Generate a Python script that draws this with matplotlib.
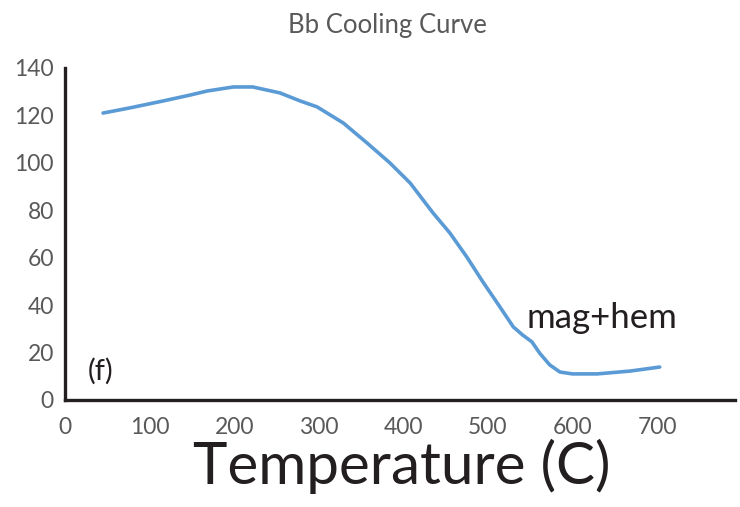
import matplotlib
matplotlib.use("Agg")
import matplotlib.pyplot as plt

# Bb sample: magnetic moment vs temperature during cooling
temperature = [45, 77, 116, 148, 168, 199, 222, 254, 278, 298, 329, 357, 384,
               408, 435, 455, 475, 494, 511, 530, 541, 552, 561, 573, 585, 600,
               629, 668, 703]
moment = [121.0, 123.2, 126.1, 128.6, 130.3, 132.0, 132.0, 129.5, 126.1, 123.6,
          116.8, 108.4, 100.0, 91.5, 78.9, 70.4, 60.3, 49.8, 40.9, 30.8, 27.4,
          24.5, 19.8, 14.8, 11.8, 11.0, 11.0, 12.2, 13.9]

x_ticks = [0, 100, 200, 300, 400, 500, 600, 700]
y_ticks = [0, 20, 40, 60, 80, 100, 120, 140]

plt.rcParams["font.family"] = ["Lato", "DejaVu Sans"]

fig = plt.figure(figsize=(7.4, 5.07), dpi=100)
ax = fig.add_axes([65 / 740, 1 - 400 / 507, (735 - 65) / 740, (400 - 68) / 507])

ax.plot(temperature, moment, color="#5B9BD5", linewidth=2.6,
        solid_capstyle="round", solid_joinstyle="round")

ax.set_xlim(0, 792)
ax.set_ylim(0, 140)
ax.set_xticks(x_ticks)
ax.set_yticks(y_ticks)
ax.tick_params(length=0, labelsize=16.5, labelcolor="#595959")
ax.tick_params(axis="x", pad=12)
ax.tick_params(axis="y", pad=8)

for side in ("top", "right"):
    ax.spines[side].set_visible(False)
for side in ("left", "bottom"):
    ax.spines[side].set_color("#231f20")
    ax.spines[side].set_linewidth(2.4)

fig.text(387 / 740, 1 - 26 / 507, "Bb Cooling Curve", ha="center", va="center",
         fontsize=18.5, color="#595959")
fig.text(402 / 740, 1 - 466 / 507, "Temperature (C)", ha="center", va="center",
         fontsize=42, color="#231f20")

ax.text(635, 30.4, "mag+hem", ha="center", va="baseline", fontsize=25, color="#231f20")
ax.text(42, 12.2, "(f)", ha="center", va="center", fontsize=21, color="#231f20")

fig.savefig("out.png", dpi=100)
